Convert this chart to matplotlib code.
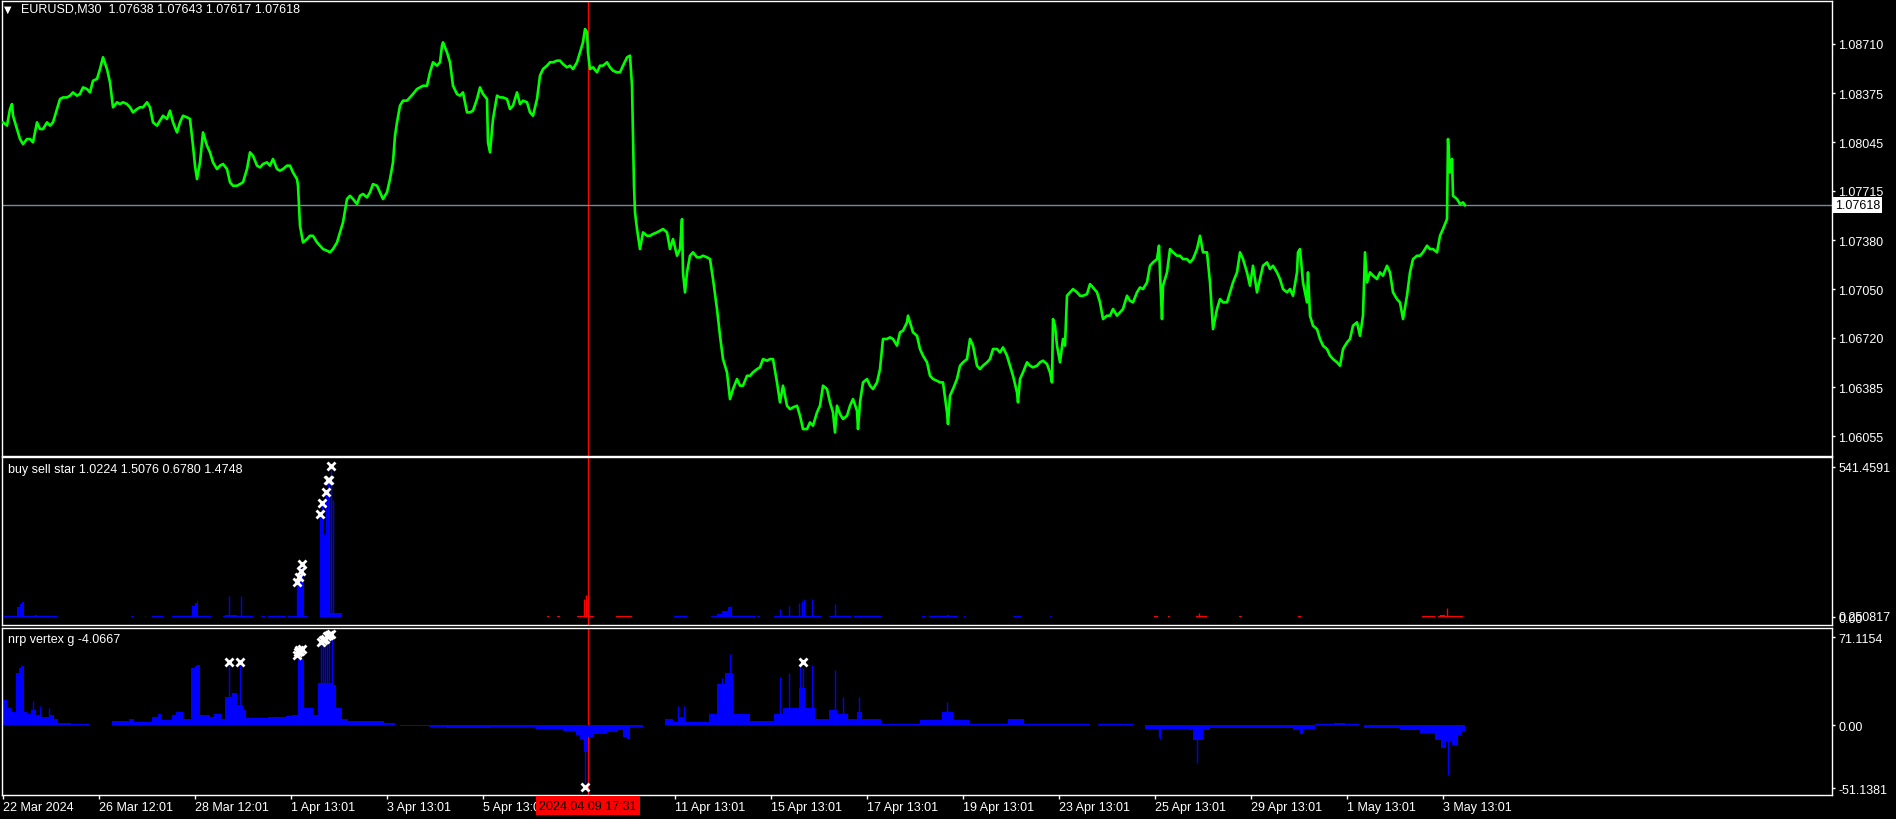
import matplotlib
matplotlib.use("Agg")
import matplotlib.pyplot as plt
from matplotlib.transforms import blended_transform_factory

plt.rcParams['font.family'] = ['Liberation Sans', 'DejaVu Sans']
plt.rcParams['font.size'] = 9

# ---------------------------------------------------------------- data
# EURUSD M30 closes (bar index from 22 Mar 2024 00:00)
price_bars = [
    0, 4, 7, 9, 10, 14, 17, 20, 24, 27,
    30, 34, 37, 40, 44, 47, 50, 54, 57, 60,
    64, 67, 70, 74, 77, 80, 84, 87, 90, 94,
    97, 100, 104, 107, 110, 114, 117, 120, 124, 127,
    130, 134, 137, 140, 144, 147, 150, 154, 157, 160,
    164, 167, 170, 174, 177, 180, 184, 187, 190, 192,
    194, 197, 200, 204, 207, 210, 214, 217, 220, 224,
    227, 230, 234, 237, 240, 244, 247, 250, 254, 257,
    260, 264, 267, 270, 274, 277, 280, 284, 287, 290,
    294, 295, 297, 300, 304, 307, 310, 314, 317, 320,
    324, 327, 330, 334, 337, 340, 344, 347, 350, 354,
    357, 360, 364,
    367, 370, 374, 377, 380, 384, 387, 390, 392, 394,
    397, 400, 404, 407, 410, 414, 417, 420, 424, 427,
    430, 434, 437, 439, 440, 444, 447, 450, 454, 457,
    460, 464, 467, 470, 474, 477, 480, 484, 485, 487,
    490, 494, 497, 500, 504, 507, 510, 514, 517, 520,
    524, 527, 530, 534, 537, 540, 544, 547, 550, 554,
    557, 560, 564, 567, 570, 574, 577, 580, 582, 584,
    585, 587, 590, 594, 597, 600, 604, 607, 610, 614,
    617, 620, 624, 627, 629, 630, 631, 632, 634, 637,
    640, 644, 647, 650, 654, 657, 660, 664, 667, 670,
    674, 677, 679, 680, 682, 684, 687, 690, 694, 697,
    700, 704, 707, 710, 714, 717, 720, 724, 727, 730,
    734,
    737, 740, 744, 747, 750, 754, 757, 760, 764, 767,
    770, 774, 777, 780, 784, 787, 790, 794, 797, 800,
    804, 807, 810, 814, 817, 820, 824, 827, 830, 832,
    834, 837, 840, 844, 847, 850, 854, 855, 857, 860,
    864, 867, 870, 874, 877, 880, 884, 887, 890, 894,
    897, 900, 904, 905, 907, 910, 914, 917, 920, 924,
    927, 930, 934, 937, 940, 944, 945, 947, 950, 954,
    957, 960, 964, 967, 970, 974, 977, 980, 984, 987,
    990, 994, 997, 1000, 1004, 1007, 1010, 1014, 1015, 1017,
    1020, 1024, 1027, 1030, 1034, 1037, 1040, 1044, 1047, 1049,
    1050, 1052, 1054, 1057, 1060, 1062, 1064, 1067, 1070, 1074,
    1077, 1080, 1084, 1087, 1090, 1094, 1097, 1100, 1104,
    1107, 1110, 1114, 1117, 1120, 1124, 1127, 1130, 1134, 1137,
    1140, 1144, 1147, 1150, 1154, 1156, 1157, 1159, 1160, 1164,
    1167, 1170, 1174, 1177, 1180, 1184, 1187, 1190, 1194, 1197,
    1200, 1204, 1207, 1210, 1214, 1217, 1220, 1224, 1227, 1230,
    1234, 1237, 1240, 1244, 1247, 1250, 1254, 1257, 1260, 1264,
    1267, 1270, 1274, 1277, 1280, 1284, 1287, 1290, 1294, 1295,
    1297, 1300, 1304, 1305, 1307, 1310, 1314, 1317, 1320, 1324,
    1327, 1330, 1334, 1337, 1340, 1344, 1347, 1350, 1354, 1357,
    1360, 1362, 1364, 1367, 1370, 1374, 1377, 1380, 1384, 1387,
    1390, 1394, 1397, 1400, 1404, 1407, 1410, 1414, 1417, 1420,
    1424, 1427, 1430, 1434, 1437, 1440, 1444, 1445, 1447, 1449,
    1450, 1454, 1457, 1460, 1462,
]
price_vals = [
    1.08179, 1.08157, 1.08269, 1.08303, 1.08224, 1.08134, 1.08066, 1.08032, 1.08066, 1.08066,
    1.08044, 1.08179, 1.08134, 1.08134, 1.08179, 1.08157, 1.08179, 1.08269, 1.08337, 1.08348,
    1.08348, 1.08360, 1.08382, 1.08360, 1.08371, 1.08416, 1.08405, 1.08382, 1.08461, 1.08473,
    1.08540, 1.08620, 1.08540, 1.08450, 1.08281, 1.08315, 1.08303, 1.08315, 1.08303, 1.08281,
    1.08247, 1.08269, 1.08281, 1.08281, 1.08315, 1.08281, 1.08179, 1.08157, 1.08190, 1.08224,
    1.08202, 1.08258, 1.08179, 1.08111, 1.08179, 1.08224, 1.08213, 1.08202, 1.08021, 1.07886,
    1.07795, 1.07908, 1.08111, 1.08021, 1.07976, 1.07908, 1.07863, 1.07886, 1.07897, 1.07863,
    1.07773, 1.07750, 1.07750, 1.07761, 1.07773, 1.07863, 1.07976, 1.07953, 1.07886, 1.07874,
    1.07897, 1.07908, 1.07886, 1.07931, 1.07863, 1.07852, 1.07863, 1.07886, 1.07886, 1.07840,
    1.07795, 1.07750, 1.07479, 1.07366, 1.07389, 1.07411, 1.07411, 1.07366, 1.07344, 1.07321,
    1.07310, 1.07299, 1.07321, 1.07366, 1.07434, 1.07502, 1.07660, 1.07682, 1.07660, 1.07626,
    1.07682, 1.07694, 1.07671,
    1.07705, 1.07761, 1.07750, 1.07705, 1.07660, 1.07705, 1.07795, 1.07908, 1.08089, 1.08179,
    1.08292, 1.08326, 1.08326, 1.08348, 1.08371, 1.08405, 1.08416, 1.08427, 1.08427, 1.08518,
    1.08586, 1.08563, 1.08586, 1.08698, 1.08721, 1.08653, 1.08586, 1.08427, 1.08371, 1.08360,
    1.08382, 1.08247, 1.08247, 1.08258, 1.08337, 1.08416, 1.08371, 1.08337, 1.08044, 1.07976,
    1.08202, 1.08360, 1.08348, 1.08348, 1.08337, 1.08269, 1.08292, 1.08382, 1.08303, 1.08326,
    1.08315, 1.08247, 1.08224, 1.08337, 1.08495, 1.08540, 1.08563, 1.08586, 1.08586, 1.08597,
    1.08597, 1.08574, 1.08552, 1.08563, 1.08540, 1.08586, 1.08653, 1.08721, 1.08811, 1.08789,
    1.08653, 1.08540, 1.08552, 1.08518, 1.08563, 1.08563, 1.08586, 1.08552, 1.08529, 1.08518,
    1.08518, 1.08563, 1.08619, 1.08631, 1.08427, 1.08089, 1.07750, 1.07570, 1.07457, 1.07321,
    1.07434, 1.07411, 1.07411, 1.07423, 1.07434, 1.07445, 1.07457, 1.07434, 1.07321, 1.07389,
    1.07276, 1.07321, 1.07524, 1.07163, 1.07028, 1.07163, 1.07276, 1.07299, 1.07265, 1.07265,
    1.07276, 1.07265, 1.07253, 1.07118, 1.06915, 1.06734, 1.06576, 1.06486, 1.06305, 1.06373,
    1.06441,
    1.06396, 1.06396, 1.06463, 1.06463, 1.06486, 1.06508, 1.06520, 1.06576, 1.06565, 1.06576,
    1.06576, 1.06418, 1.06283, 1.06396, 1.06260, 1.06237, 1.06249, 1.06260, 1.06192, 1.06102,
    1.06102, 1.06147, 1.06125, 1.06215, 1.06260, 1.06396, 1.06373, 1.06283, 1.06215, 1.06079,
    1.06260, 1.06204, 1.06170, 1.06192, 1.06260, 1.06305, 1.06226, 1.06102, 1.06283, 1.06418,
    1.06441, 1.06396, 1.06373, 1.06418, 1.06508, 1.06712, 1.06712, 1.06723, 1.06712, 1.06667,
    1.06757, 1.06768, 1.06825, 1.06870, 1.06825, 1.06757, 1.06734, 1.06644, 1.06599, 1.06554,
    1.06463, 1.06441, 1.06429, 1.06418, 1.06418, 1.06215, 1.06136, 1.06328, 1.06373, 1.06441,
    1.06531, 1.06554, 1.06576, 1.06712, 1.06667, 1.06531, 1.06508, 1.06531, 1.06554, 1.06576,
    1.06644, 1.06644, 1.06621, 1.06655, 1.06599, 1.06531, 1.06463, 1.06350, 1.06283, 1.06441,
    1.06486, 1.06554, 1.06531, 1.06520, 1.06531, 1.06554, 1.06565, 1.06542, 1.06486, 1.06418,
    1.06847, 1.06802, 1.06667, 1.06554, 1.06712, 1.06667, 1.07005, 1.07028, 1.07050, 1.07028,
    1.07005, 1.07005, 1.07016, 1.07084, 1.07061, 1.07028, 1.06960, 1.06847, 1.06870,
    1.06870, 1.06915, 1.06870, 1.06892, 1.06915, 1.07005, 1.06971, 1.06960, 1.07028, 1.07061,
    1.07050, 1.07095, 1.07208, 1.07231, 1.07253, 1.07344, 1.07163, 1.06847, 1.07073, 1.07163,
    1.07321, 1.07299, 1.07276, 1.07276, 1.07253, 1.07253, 1.07231, 1.07253, 1.07321, 1.07411,
    1.07299, 1.07299, 1.07095, 1.06779, 1.06915, 1.06982, 1.06960, 1.06960, 1.07028, 1.07095,
    1.07163, 1.07299, 1.07253, 1.07163, 1.07073, 1.07208, 1.07028, 1.07118, 1.07208, 1.07231,
    1.07186, 1.07208, 1.07163, 1.07118, 1.07050, 1.07028, 1.07050, 1.07005, 1.07163, 1.07299,
    1.07321, 1.07095, 1.06960, 1.07163, 1.06870, 1.06802, 1.06779, 1.06712, 1.06667, 1.06644,
    1.06599, 1.06576, 1.06554, 1.06531, 1.06644, 1.06689, 1.06712, 1.06802, 1.06825, 1.06734,
    1.06870, 1.07299, 1.07095, 1.07163, 1.07141, 1.07118, 1.07163, 1.07141, 1.07208, 1.07163,
    1.07028, 1.06982, 1.06960, 1.06847, 1.07005, 1.07163, 1.07253, 1.07276, 1.07276, 1.07299,
    1.07344, 1.07321, 1.07321, 1.07299, 1.07411, 1.07457, 1.07524, 1.08066, 1.07840, 1.07931,
    1.07682, 1.07660, 1.07626, 1.07637, 1.07618,
]
assert len(price_bars) == len(price_vals)

price_ticks = [1.08710, 1.08375, 1.08045, 1.07715, 1.07380, 1.07050, 1.06720, 1.06385, 1.06055]
last_price = 1.07618
cursor_bar = 585
cursor_label = "2024.04.09 17:31"

# "buy sell star" histogram (blue / red base profile, plus thin spikes)
bss_blue_bars = [1, 14, 17, 19, 21, 32, 34, 54, 128, 131, 142, 143, 149, 160, 169, 189, 192, 194,
                 195, 208, 220, 222, 234, 250, 258, 262, 265, 283, 285, 295, 301, 305, 317, 339,
                 671, 684, 708, 714, 719, 725, 729, 752, 754, 757, 771, 818, 826, 848, 851, 878,
                 919, 922, 926, 944, 946, 955, 961, 963, 1010, 1018, 1047, 1049]
bss_blue_vals = [5, 36, 48, 55, 5, 8, 5, 0, 5, 0, 5, 0, 5, 0, 5, 42, 52, 60,
                 5, 0, 5, 10, 5, 0, 5, 0, 5, 0, 5, 126, 5, 0, 15, 0,
                 5, 0, 5, 12, 24, 36, 5, 0, 5, 0, 5, 0, 5, 0, 5, 0,
                 5, 0, 5, 8, 5, 0, 5, 0, 6, 0, 5, 0]
bss_red_bars = [544, 546, 554, 557, 574, 591, 613, 629, 1151, 1155, 1165, 1167, 1193, 1204,
                1236, 1239, 1295, 1298, 1419, 1432, 1435, 1437, 1442, 1460]
bss_red_vals = [5, 0, 5, 0, 5, 0, 5, 0, 5, 0, 5, 0, 5, 0,
                6, 0, 5, 0, 5, 0, 5, 8, 5, 0]
bss_blue_spike_bars = [226, 238, 294, 296, 298, 299, 317, 319, 321, 323, 325, 326, 328, 330,
                       727, 777, 786, 796, 799, 801, 809, 832]
bss_blue_spike_vals = [77, 77, 126, 144, 167, 191, 371, 410, 300, 451, 494, 494, 544, 420,
                       40, 30, 40, 51, 60, 66, 66, 48]
bss_red_spike_bars = [581, 583, 1196, 1444]
bss_red_spike_vals = [66, 81, 16, 33]
bss_star_bars = [294, 296, 298, 299, 317, 319, 323, 325, 326, 328]
bss_star_vals = [126, 144, 167, 191, 371, 410, 451, 494, 494, 544]

# "nrp vertex g" histogram
nrp_bars = [0, 4, 8, 12, 13, 16, 18, 21, 24, 28, 33, 39, 46, 51, 55, 68, 86, 109, 126, 131,
            149, 155, 158, 169, 173, 180, 188, 192, 194, 197, 207, 211, 218, 222, 229, 234, 240,
            243, 265, 283, 289, 295, 301, 310, 315, 330, 333, 339, 345, 381, 392, 397, 426, 443,
            488, 533, 560, 573, 577, 581, 584, 591, 604, 615, 620, 624, 627, 640, 656, 662,
            670, 675, 681, 706, 714, 722, 730, 747, 771, 780, 796, 802, 812, 826, 834, 845,
            854, 859, 878, 917, 939, 950, 966, 1005, 1021, 1087, 1095, 1131, 1142, 1186, 1190,
            1200, 1207, 1290, 1297, 1300, 1312, 1331, 1342, 1356, 1361, 1397, 1417, 1432, 1438,
            1443, 1449, 1455, 1459, 1462]
nrp_vals = [20.4, 13.6, 10.9, 9.5, 42, 46, 47.6, 10.9, 9.5, 12, 8, 6.8, 8, 5.4, 2.2, 1.4, 0.5,
            3.3, 5.4, 2.7, 6.8, 9.5, 4, 8, 10.9, 5.4, 46, 47.6, 49, 8, 6.8, 9.5, 5.4, 23, 25.8,
            16.3, 12, 6, 6.8, 7.3, 8, 54, 13.6, 8, 34, 32.6, 13.6, 5.4, 3.3, 2.2, 0, -0.5, -1.4,
            -2.2, -1.6, -3.3, -4.4, -8.2, -10.9, -21.8, -9.5, -6.8, -5.4, -4, -9.5, -11.4, -1.4,
            0.5, 0, 5, 3, 7, 3, 9.5, 33, 42, 9.5, 3.5, 9.5, 13.6, 30, 13.6, 5, 12, 9.5, 5, 11,
            5, 1.4, 4, 11, 4, 1.4, 5, 1.4, 0, 0.8, 0, -2.7, -4, -12, -4, -2, -4, -7, -3, 0.8,
            2, 0.8, 0, -2.5, -4, -6, -12, -18, -13, -16, -8, -5, 0]
nrp_spike_bars = [30, 37, 46, 226, 237, 296, 318, 320, 322, 324, 326, 329, 582, 675, 681, 719,
                  727, 777, 786, 797, 800, 809, 832, 840, 856, 944, 1156, 1157, 1194, 1445]
nrp_spike_vals = [20, 16, 13.6, 49, 49, 56, 66, 68, 70, 72, 73, 74, -46.5, 16, 16, 38,
                  58, 39, 42, 48, 46, 49, 45, 23, 23, 19, -9.5, -11, -30.4, -40.5]
nrp_star_bars = [226, 237, 294, 295, 296, 297, 299, 318, 320, 322, 324, 326, 328, 800, 582]
nrp_star_vals = [51, 51, 57, 59, 61, 60, 62, 67, 69, 70, 72, 73, 74, 51, -50]

# the 9 Apr label sits under the cursor date box and is not shown
date_tick_bars = [0, 96, 192, 288, 384, 480, 576, 672, 768, 864, 960, 1056, 1152, 1248, 1344, 1440]
date_tick_labels = ["22 Mar 2024", "26 Mar 12:01", "28 Mar 12:01", "1 Apr 13:01", "3 Apr 13:01",
                    "5 Apr 13:01", "", "11 Apr 13:01", "15 Apr 13:01", "17 Apr 13:01",
                    "19 Apr 13:01", "23 Apr 13:01", "25 Apr 13:01", "29 Apr 13:01", "1 May 13:01",
                    "3 May 13:01"]

# ---------------------------------------------------------------- layout
W, H = 1896, 820
GREEN, BLUE, RED = "#00FF00", "#0000FF", "#FF0000"


def rect(x0, y0, x1, y1):
    return [x0 / W, 1 - y1 / H, (x1 - x0) / W, (y1 - y0) / H]


fig = plt.figure(figsize=(W / 100, H / 100), dpi=100, facecolor="black")
ax1 = fig.add_axes(rect(2, 2, 1832, 456.5))
ax2 = fig.add_axes(rect(2, 458.3, 1832, 625.7))
ax3 = fig.add_axes(rect(2, 629, 1832, 796))

for ax in (ax1, ax2, ax3):
    ax.set_facecolor("black")
    for s in ax.spines.values():
        s.set_color("white")
        s.set_linewidth(1)
    ax.set_xlim(-1, 1829)
    ax.yaxis.tick_right()
    ax.tick_params(axis="y", colors="white", length=2.2, width=1, pad=2.2, labelsize=9)
    ax.axvline(cursor_bar, color=RED, lw=1, zorder=1)
for ax in (ax1, ax2):
    ax.set_xticks([])

# main price window
ax1.plot(price_bars, price_vals, color=GREEN, lw=1.9, zorder=3)
ax1.axhline(last_price, color="#778899", lw=1, zorder=2)
ax1.set_ylim(1.05923, 1.09001)
ax1.set_yticks(price_ticks)
ax1.set_yticklabels([f"{v:.5f}" for v in price_ticks])
ax1.text(1.0015, last_price, f"{last_price:.5f}", transform=blended_transform_factory(ax1.transAxes, ax1.transData),
         ha="left", va="center", color="black", fontsize=9,
         bbox=dict(facecolor="white", edgecolor="none", pad=1.6), zorder=10, clip_on=False)

# buy sell star
ax2.fill_between(bss_blue_bars, bss_blue_vals, step="post", color=BLUE, lw=0, zorder=2)
ax2.fill_between(bss_red_bars, bss_red_vals, step="post", color=RED, lw=0, zorder=2)
ax2.vlines(bss_blue_spike_bars, 0, bss_blue_spike_vals, color=BLUE, lw=1, zorder=2)
ax2.vlines(bss_red_spike_bars, 0, bss_red_spike_vals, color=RED, lw=1, zorder=2)
ax2.plot(bss_star_bars, bss_star_vals, "x", color="white", ms=6, mew=2, zorder=4)
ax2.set_ylim(-26.6, 575.3)
ax2.set_yticks([0, 541.4591])
ax2.set_yticklabels(["0.00", "541.4591"])
ax2.text(1.0037, 0, "0.250817", transform=blended_transform_factory(ax2.transAxes, ax2.transData),
         ha="left", va="center", color="white", fontsize=9, clip_on=False)

# nrp vertex
ax3.fill_between(nrp_bars, nrp_vals, step="post", color=BLUE, lw=0, zorder=2)
ax3.vlines(nrp_spike_bars, 0, nrp_spike_vals, color=BLUE, lw=1, zorder=2)
ax3.plot(nrp_star_bars, nrp_star_vals, "x", color="white", ms=6, mew=2, zorder=4)
ax3.set_ylim(-56.4, 78.7)
ax3.set_yticks([-51.1381, 0, 71.1154])
ax3.set_yticklabels(["-51.1381", "0.00", "71.1154"])
ax3.set_xticks(date_tick_bars)
ax3.set_xticklabels(date_tick_labels)
ax3.tick_params(axis="x", colors="white", length=3, width=1, pad=1.5, labelsize=9)
for lbl in ax3.get_xticklabels():
    lbl.set_horizontalalignment("left")
ax3.text(cursor_bar, -0.063, cursor_label, transform=blended_transform_factory(ax3.transData, ax3.transAxes),
         ha="center", va="center", color="black", fontsize=9,
         bbox=dict(facecolor=RED, edgecolor="none", pad=2.6), zorder=10, clip_on=False)

# window captions
fig.text(8 / W, 1 - 10 / H, "\u25bc", color="white", fontsize=7, ha="center", va="center",
         family=["DejaVu Sans"])
fig.text(21 / W, 1 - 10 / H, "EURUSD,M30  1.07638 1.07643 1.07617 1.07618", color="white",
         fontsize=9, va="center")
fig.text(7.6 / W, 1 - 470 / H, "buy sell star 1.0224 1.5076 0.6780 1.4748", color="white",
         fontsize=9, va="center")
fig.text(7.6 / W, 1 - 640 / H, "nrp vertex g -4.0667", color="white", fontsize=9, va="center")

fig.savefig("out.png", dpi=100, facecolor="black")
